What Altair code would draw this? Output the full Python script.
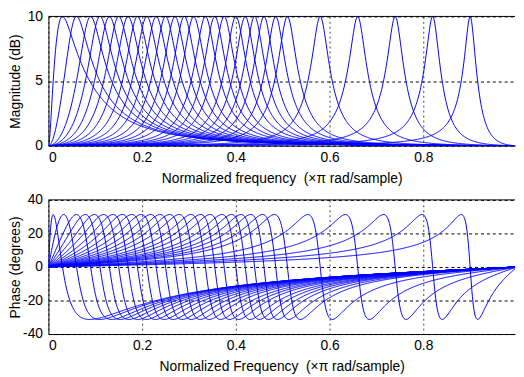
import altair as alt
import numpy as np
import pandas as pd

# centre frequencies (x pi rad/sample) read from the peaks / phase zero crossings
centers = [0.03, 0.06, 0.09, 0.11, 0.13, 0.15, 0.17, 0.19, 0.21, 0.23, 0.25, 0.27,
           0.29, 0.31, 0.335, 0.355, 0.375, 0.40, 0.42, 0.44, 0.46, 0.485, 0.51,
           0.58, 0.66, 0.74, 0.82, 0.90]
# bandwidth at the 5 dB level (x pi rad/sample)
bandwidths = [0.078, 0.077, 0.075, 0.074, 0.073, 0.072, 0.071, 0.070, 0.069, 0.068,
              0.067, 0.066, 0.065, 0.064, 0.063, 0.062, 0.061, 0.060, 0.059, 0.058,
              0.057, 0.056, 0.055, 0.052, 0.051, 0.048, 0.043, 0.035]
peak_gain_db = 10
x_ticks = [0, 0.2, 0.4, 0.6, 0.8]
mag_ticks = [0, 5, 10]
phase_ticks = [-40, -20, 0, 20, 40]

# frequency response of each second-order peaking filter
w = np.linspace(0, 1, 600)
G = 10 ** (peak_gain_db / 20)
rows = []
for k, (f0, bw) in enumerate(zip(centers, bandwidths)):
    beta = np.tan(np.pi * bw / 2) / np.sqrt(G)
    c = np.cos(np.pi * f0)
    b = np.array([1 + G * beta, -2 * c, 1 - G * beta]) / (1 + beta)
    a = np.array([1, -2 * c / (1 + beta), (1 - beta) / (1 + beta)])
    z = np.exp(-1j * np.pi * w)
    H = (b[0] + b[1] * z + b[2] * z ** 2) / (a[0] + a[1] * z + a[2] * z ** 2)
    mag = 20 * np.log10(np.abs(H))
    ph = np.degrees(np.unwrap(np.angle(H)))
    for fi, m, p in zip(w, mag, ph):
        rows.append({"filter": k, "f": float(fi), "mag": float(m), "phase": float(p)})
df = pd.DataFrame(rows)

FONT = "Liberation Sans"
W = 473
XMAX = W / 475.0
xscale = alt.Scale(domain=[0, XMAX], nice=False, zero=False)


def x_axis(title):
    return alt.Axis(title=title, values=x_ticks, format=".1~f", grid=True,
                    gridColor="#444444", gridDash=[2, 3], gridOpacity=1,
                    labelPadding=5, titlePadding=7, labelOverlap=False)


def y_axis(title, ticks):
    return alt.Axis(title=title, values=ticks, grid=True, gridColor="#000000",
                    gridDash=[3, 3], gridOpacity=1, labelPadding=6,
                    minExtent=26, maxExtent=26, titlePadding=0, labelOverlap=False,
                    labelExpr="datum.value < 0 ? '-' + abs(datum.value) : '' + datum.value")


mag_x = alt.X("f:Q", scale=xscale, axis=x_axis("Normalized frequency \u00a0(\u00d7\u03c0 rad/sample)"))
mag_yaxis = y_axis("Magnitude (dB)", mag_ticks)
mag_yscale = alt.Scale(domain=[0, 10], nice=False)
mag_lines = alt.Chart(df).mark_line(color="#0000ff", strokeWidth=1, clip=True).encode(
    x=mag_x,
    y=alt.Y("mag:Q", scale=mag_yscale, axis=mag_yaxis),
    detail="filter:N",
)
mag_top = alt.Chart(pd.DataFrame({"v": [10]})).mark_rule(color="black", strokeWidth=1).encode(
    y=alt.Y("v:Q", scale=mag_yscale, axis=mag_yaxis))
top = alt.layer(mag_lines, mag_top).properties(width=W, height=131)

ph_x = alt.X("f:Q", scale=xscale, axis=x_axis("Normalized Frequency \u00a0(\u00d7\u03c0 rad/sample)"))
ph_yaxis = y_axis("Phase (degrees)", phase_ticks)
ph_yscale = alt.Scale(domain=[-40, 40], nice=False)
ph_lines = alt.Chart(df).mark_line(color="#0000ff", strokeWidth=1, clip=True).encode(
    x=ph_x,
    y=alt.Y("phase:Q", scale=ph_yscale, axis=ph_yaxis),
    detail="filter:N",
)
ph_top = alt.Chart(pd.DataFrame({"v": [40]})).mark_rule(color="black", strokeWidth=1).encode(
    y=alt.Y("v:Q", scale=ph_yscale, axis=ph_yaxis))
bottom = alt.layer(ph_lines, ph_top).properties(width=W, height=136)

chart = alt.vconcat(top, bottom, spacing=6).properties(
    padding={"left": 0, "top": -2, "right": 0, "bottom": 0},
    background="white",
).configure_view(stroke="transparent").configure_axis(
    labelFont=FONT, titleFont=FONT, labelFontSize=14, titleFontSize=14,
    titleFontWeight="normal", labelColor="black", titleColor="black",
    domainColor="black", ticks=False,
)

chart.save("out.html", embed_options={"renderer": "svg", "actions": False})
